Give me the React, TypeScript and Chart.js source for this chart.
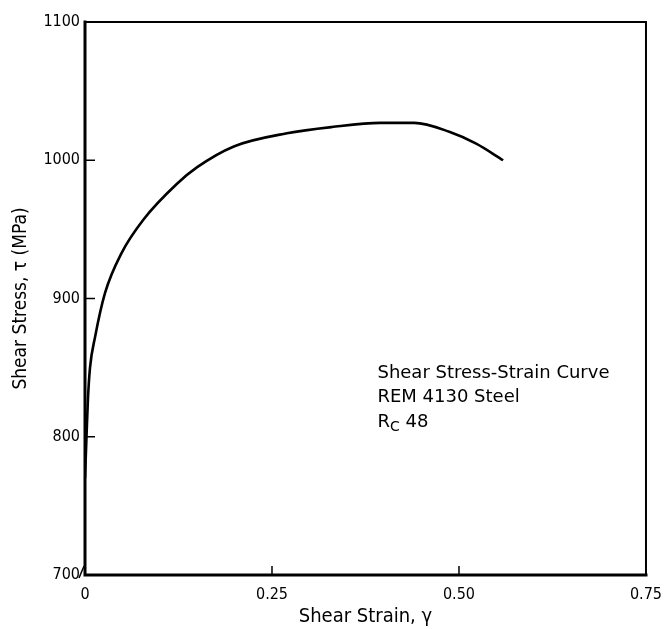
import React, { useEffect, useRef } from "react";
import { Chart, registerables } from "chart.js";

Chart.register(...registerables);

const strain = [0.0, 0.002, 0.004, 0.0067, 0.0134, 0.0268, 0.049, 0.078, 0.123, 0.15, 0.199, 0.27, 0.33, 0.395, 0.44, 0.487, 0.523, 0.559];
const stress = [770, 800, 828, 850, 872, 904, 933, 957, 983, 995, 1010, 1019.5, 1024, 1027, 1027, 1020.6, 1012, 1000];

const xTickValues = [0, 0.25, 0.5, 0.75];
const xTickLabels = ["0", "0.25", "0.50", "0.75"];
const yTickValues = [700, 800, 900, 1000, 1100];
const yTickLabels = ["700", "800", "900", "1000", "1100"];

const noteLines = ["Shear Stress-Strain Curve", "REM 4130 Steel"];
const noteRc = ["R", "C", " 48"];

const xTitle = "Shear Strain, \u03b3";
const yTitle = "Shear Stress, \u03c4 (MPa)";

const FONT = "'DejaVu Sans Condensed', 'DejaVu Sans', sans-serif";
const NOTE_FONT = "'DejaVu Sans', sans-serif";

const framePlugin = {
  id: "frame",
  afterDatasetsDraw(chart: any) {
    const { ctx, chartArea } = chart;
    const { left, right, top, bottom } = chartArea;
    const xs = chart.scales.x;
    const ys = chart.scales.y;
    ctx.save();
    ctx.strokeStyle = "#000";
    ctx.lineCap = "square";
    ctx.lineWidth = 3;
    ctx.beginPath();
    ctx.moveTo(left, top);
    ctx.lineTo(left, bottom);
    ctx.lineTo(right, bottom);
    ctx.stroke();
    ctx.lineWidth = 2;
    ctx.beginPath();
    ctx.moveTo(left, top);
    ctx.lineTo(right, top);
    ctx.lineTo(right, bottom);
    ctx.stroke();
    ctx.lineWidth = 1.5;
    ctx.lineCap = "butt";
    [800, 900, 1000].forEach((v) => {
      const y = ys.getPixelForValue(v);
      ctx.beginPath();
      ctx.moveTo(left, y);
      ctx.lineTo(left + 10, y);
      ctx.stroke();
    });
    [0.25, 0.5].forEach((v) => {
      const x = xs.getPixelForValue(v);
      ctx.beginPath();
      ctx.moveTo(x, bottom);
      ctx.lineTo(x, bottom - 9);
      ctx.stroke();
    });
    ctx.lineWidth = 1.5;
    ctx.beginPath();
    ctx.moveTo(left - 6, bottom + 3);
    ctx.lineTo(left - 1, bottom - 9);
    ctx.stroke();
    // annotation
    ctx.fillStyle = "#000";
    ctx.textBaseline = "middle";
    ctx.textAlign = "left";
    const ax = xs.getPixelForValue(0.391);
    const ay = ys.getPixelForValue(846);
    ctx.font = "18px " + NOTE_FONT;
    noteLines.forEach((t, i) => ctx.fillText(t, ax, ay + i * 24.5));
    const ry = ay + 2 * 24.5;
    ctx.fillText(noteRc[0], ax, ry);
    const w0 = ctx.measureText(noteRc[0]).width;
    ctx.font = "14px " + NOTE_FONT;
    ctx.fillText(noteRc[1], ax + w0, ry + 5);
    const w1 = ctx.measureText(noteRc[1]).width;
    ctx.font = "18px " + NOTE_FONT;
    ctx.fillText(noteRc[2], ax + w0 + w1, ry);
    ctx.restore();
  },
};

export default function App() {
  const ref = useRef<HTMLCanvasElement>(null);
  useEffect(() => {
    if (!ref.current) return;
    const chart = new Chart(ref.current, {
      type: "scatter",
      data: {
        datasets: [
          {
            data: strain.map((x, i) => ({ x, y: stress[i] })),
            showLine: true,
            borderColor: "#000",
            borderWidth: 2.6,
            pointRadius: 0,
            cubicInterpolationMode: "monotone",
            fill: false,
          },
        ],
      },
      options: {
        animation: false,
        responsive: false,
        maintainAspectRatio: false,
        layout: { padding: { top: 22, right: 26, left: 0, bottom: 0 } },
        plugins: { legend: { display: false }, tooltip: { enabled: false } },
        scales: {
          x: {
            type: "linear",
            min: 0,
            max: 0.75,
            grid: { display: false, drawTicks: false },
            border: { display: false },
            afterBuildTicks: (s: any) => {
              s.ticks = xTickValues.map((v) => ({ value: v }));
            },
            afterFit: (s: any) => {
              s.height = 54;
            },
            ticks: {
              color: "#000",
              padding: 10,
              maxRotation: 0,
              font: { family: FONT, size: 16 },
              callback: (v: any) => {
                const i = xTickValues.indexOf(Number(v));
                return i >= 0 ? xTickLabels[i] : "";
              },
            },
            title: {
              display: true,
              text: xTitle,
              color: "#000",
              font: { family: FONT, size: 20 },
              padding: { top: 0, bottom: 0 },
            },
          },
          y: {
            type: "linear",
            min: 700,
            max: 1100,
            grid: { display: false, drawTicks: false },
            border: { display: false },
            afterBuildTicks: (s: any) => {
              s.ticks = yTickValues.map((v) => ({ value: v }));
            },
            afterFit: (s: any) => {
              s.width = 85;
            },
            ticks: {
              color: "#000",
              padding: 5,
              font: { family: FONT, size: 16 },
              callback: (v: any) => {
                const i = yTickValues.indexOf(Number(v));
                return i >= 0 ? yTickLabels[i] : "";
              },
            },
            title: {
              display: true,
              text: yTitle,
              color: "#000",
              font: { family: FONT, size: 19 },
              padding: { top: 10, bottom: 0 },
            },
          },
        },
      },
      plugins: [framePlugin],
    } as any);
    return () => chart.destroy();
  }, []);
  return (
    <div style={{ position: "absolute", left: 0, top: 0, width: 672, height: 629, background: "#fff" }}>
      <canvas ref={ref} width={672} height={629} style={{ display: "block" }} />
    </div>
  );
}
